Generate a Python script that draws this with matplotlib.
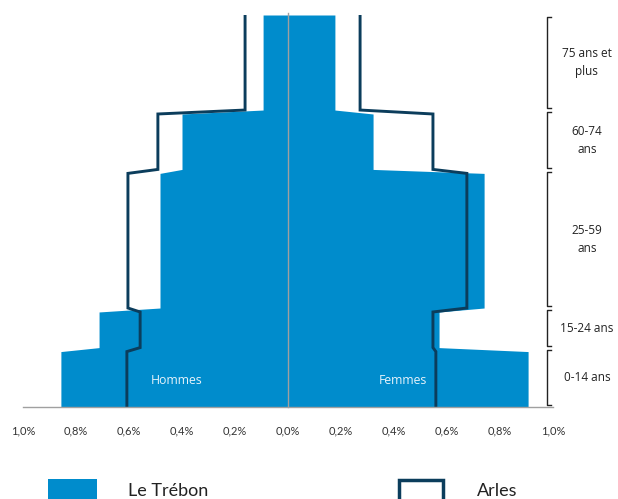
import matplotlib.pyplot as plt
from matplotlib.patches import Rectangle
import numpy as np

# age groups (first and last year of each band)
groups = ['0-14 ans', '15-24 ans', '25-59\nans', '60-74\nans', '75 ans et\nplus']
age_start = [0, 15, 25, 60, 75]
age_end = [14, 24, 59, 74, 99]

# share of population per year of age (%)
trebon_hommes = [0.857, 0.713, 0.483, 0.400, 0.094]
trebon_femmes = [0.906, 0.570, 0.740, 0.321, 0.177]
arles_hommes = [0.608, 0.558, 0.604, 0.491, 0.162]
arles_femmes = [0.558, 0.547, 0.675, 0.547, 0.272]

xticks = [-1.0, -0.8, -0.6, -0.4, -0.2, 0.0, 0.2, 0.4, 0.6, 0.8, 1.0]

blue = '#008ccc'
navy = '#0b3d5c'
font = 'Lato'


def steps(values):
  # each band is flat from its first to its last year
  ys, xs = [], []
  for s, e, v in zip(age_start, age_end, values):
    ys += [s, e]
    xs += [v, v]
  return np.array(ys), np.array(xs)


fig = plt.figure(figsize=(6.18, 4.99), dpi=100)
ax = fig.add_axes([23 / 618, (499 - 407) / 499, 530 / 618, 392 / 499])

y, xh = steps(trebon_hommes)
_, xf = steps(trebon_femmes)
ax.fill_betweenx(y, -xh, 0, color=blue, lw=0)
ax.fill_betweenx(y, 0, xf, color=blue, lw=0)

_, ah = steps(arles_hommes)
_, af = steps(arles_femmes)
ax.plot(-ah, y, color=navy, lw=2.1, solid_joinstyle='miter')
ax.plot(af, y, color=navy, lw=2.1, solid_joinstyle='miter')

ax.axvline(0, color='#a0a0a0', lw=1.0, ymin=0, ymax=1.006, clip_on=False)

ax.set_xlim(-1.0, 1.0)
ax.set_ylim(0, 99)
ax.set_xticks(xticks)
ax.set_xticklabels([('%.1f%%' % abs(t)).replace('.', ',') for t in xticks],
                   fontsize=8, color='#333333', family=font)
ax.tick_params(axis='x', length=0, pad=13)
ax.set_yticks([])
for s in ['top', 'left', 'right']:
  ax.spines[s].set_visible(False)
ax.spines['bottom'].set_color('#a0a0a0')
ax.spines['bottom'].set_linewidth(1.0)

ax.text(-0.42, 6.7, 'Hommes', color='#e6f3fb', fontsize=8.8, ha='center', va='center', family='Open Sans')
ax.text(0.435, 6.7, 'Femmes', color='#e6f3fb', fontsize=8.8, ha='center', va='center', family='Open Sans')

# brackets on the right
for s, e, g in zip(age_start, age_end, groups):
  y0, y1 = s + 0.4, min(e + 0.4, 98.5)
  ax.plot([0.993, 0.977, 0.977, 0.993], [y0, y0, y1, y1], color='#222222', lw=1.0, clip_on=False)
  ax.text(1.128, (y0 + y1) / 2, g, ha='center', va='center', fontsize=8.5,
          color='#222222', family='Open Sans', linespacing=1.5, clip_on=False)

# legend
fig.patches.append(Rectangle((48 / 618, -0.02), 49 / 618, 20 / 499 + 0.02,
                             transform=fig.transFigure, color=blue, lw=0))
fig.text(128 / 618, 3 / 499, 'Le Trébon', fontsize=13, color='#222222', family=font, va='baseline')
fig.patches.append(Rectangle((399 / 618, -0.02), 44 / 618, 19 / 499 + 0.02,
                             transform=fig.transFigure, facecolor='none', edgecolor=navy, lw=2.5))
fig.text(477 / 618, 3 / 499, 'Arles', fontsize=13, color='#222222', family=font, va='baseline')

fig.savefig('out.png', dpi=100)
